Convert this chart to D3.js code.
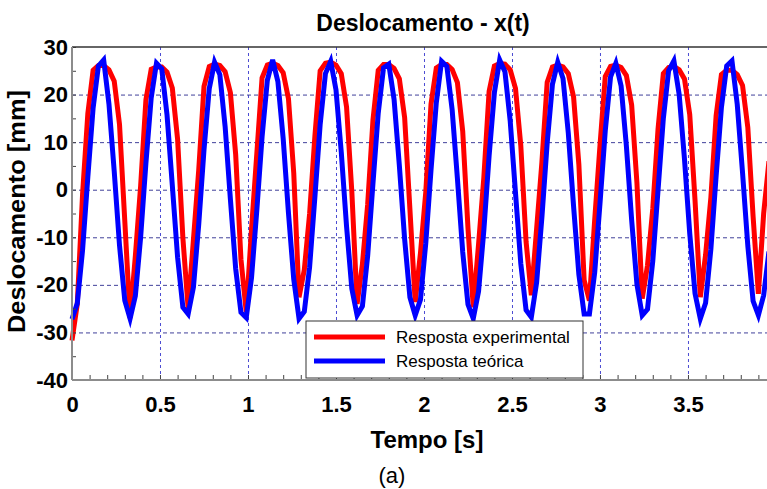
<!DOCTYPE html>
<html>
<head>
<meta charset="utf-8">
<script src="https://cdn.jsdelivr.net/npm/d3@7"></script>
<style>
  body { margin: 0; background: #fff; }
  svg { display: block; font-family: "Liberation Sans", Arial, sans-serif; }
</style>
</head>
<body>
<svg id="chart"></svg>
<script>
// Layout
const margin = { top: 47, right: 0, bottom: 109, left: 72 };
const width = 767 - margin.left - margin.right;
const height = 489 - margin.top - margin.bottom;

// Sampling interval of both series (s)
const sampleStep = 0.03;

// Resposta experimental [mm], one value per sample
const experimentalValues = [
  -31.7, -24.0, -1.0, 16.0, 25.1, 26.1, 26.1, 25.2, 22.8, 13.7,
  -6.6, -27.0, -13.9, 0.8, 18.9, 25.3, 25.8, 25.8, 24.7, 21.4,
  10.6, -10.1, -25.0, -10.5, 4.1, 21.7, 25.9, 26.4, 26.1, 24.8,
  20.4, 7.4, -14.6, -25.7, -8.3, 7.5, 23.5, 26.2, 26.6, 26.1,
  24.6, 19.1, 3.5, -22.6, -16.8, -5.1, 11.2, 25.0, 26.6, 26.8,
  26.2, 24.4, 17.4, -0.4, -24.0, -15.7, -3.1, 14.6, 25.1, 26.3,
  26.3, 25.5, 23.3, 15.2, -4.1, -23.6, -13.3, -0.6, 18.0, 25.6,
  26.3, 26.3, 25.3, 22.5, 12.3, -8.1, -24.7, -11.5, 2.5, 20.7,
  26.0, 26.5, 26.4, 25.2, 21.3, 9.3, -10.9, -22.2, -8.2, 5.8,
  22.6, 25.8, 26.2, 25.8, 24.4, 19.5, 5.3, -19.0, -23.3, -6.3,
  9.3, 23.8, 25.9, 26.2, 25.7, 24.0, 17.8, 1.4, -22.9, -15.9,
  -4.0, 12.8, 24.4, 25.7, 25.9, 25.2, 23.3, 15.8, -2.2, -22.6,
  -13.7, -1.7, 15.6, 24.2, 25.1, 25.1, 24.2, 21.9, 13.1, -5.6,
  -21.9, -5.0, 6.0
];

// Resposta teórica [mm], one value per sample
const theoreticalValues = [
  -27.2, -23.9, -12.7, 2.7, 17.2, 26.0, 27.3, 18.0, 3.8, -11.7,
  -23.3, -27.1, -22.3, -10.0, 5.6, 19.3, 26.6, 25.4, 15.7, 0.9,
  -14.2, -24.7, -26.1, -20.5, -7.3, 8.4, 21.3, 26.8, 24.2, 13.3,
  -2.0, -16.6, -25.8, -26.9, -18.5, -4.4, 11.1, 23.0, 27.3, 22.7,
  10.7, -4.9, -18.8, -27.1, -25.6, -16.3, -1.6, 13.7, 24.4, 27.0,
  21.0, 7.9, -7.7, -20.8, -26.4, -24.5, -13.9, 1.3, 16.1, 25.6,
  26.4, 19.0, 5.1, -10.4, -22.6, -26.4, -23.1, -11.3, 4.2, 18.3,
  27.0, 25.9, 16.8, 2.3, -13.1, -24.1, -27.1, -21.4, -8.6, 7.1,
  20.4, 27.3, 24.8, 14.4, -0.7, -15.5, -25.3, -26.8, -19.5, -5.8,
  9.8, 22.2, 26.8, 23.4, 11.9, -3.5, -17.8, -26.1, -26.1, -17.4,
  -2.9, 12.4, 23.7, 26.6, 21.8, 9.2, -6.4, -19.9, -26.4, -25.1,
  -15.0, 0.0, 15.0, 25.0, 27.1, 20.0, 6.5, -9.2, -21.8, -27.1,
  -23.8, -12.5, 2.9, 17.3, 26.0, 27.1, 17.9, 3.6, -11.8, -23.4,
  -26.4, -22.2, -13.0
];

// Axis ticks
const xTickValues = [0, 0.5, 1, 1.5, 2, 2.5, 3, 3.5];
const yTickValues = [-40, -30, -20, -10, 0, 10, 20, 30];
const seriesLabels = ["Resposta experimental", "Resposta teórica"];

const seriesColors = {
  experimental: "#ff0000",
  theoretical: "#0000ff",
};

const svgRoot = d3
  .select("#chart")
  .attr("width", width + margin.left + margin.right)
  .attr("height", height + margin.top + margin.bottom);

const svg = svgRoot
  .append("g")
  .attr("transform", `translate(${margin.left},${margin.top})`);

// Scales
const xScale = d3.scaleLinear().domain([0, 3.949]).range([0, width]);
const yScale = d3.scaleLinear().domain([-40, 30]).range([height, 0]);

// Grid lines (dashed)
svg
  .append("g")
  .attr("class", "x-grid")
  .attr("transform", `translate(0,${height})`)
  .call(d3.axisBottom(xScale).tickValues(xTickValues.slice(1)).tickSize(-height).tickFormat(""))
  .call((g) => g.select(".domain").remove())
  .selectAll("line")
  .attr("stroke", "#4b4bd2")
  .attr("stroke-dasharray", "3,3");

svg
  .append("g")
  .attr("class", "y-grid")
  .call(d3.axisLeft(yScale).tickValues(yTickValues.slice(1, -1)).tickSize(-width).tickFormat(""))
  .call((g) => g.select(".domain").remove())
  .selectAll("line")
  .attr("stroke", "#40409a")
  .attr("stroke-dasharray", "4,3");

// Series lines
svg
  .append("clipPath")
  .attr("id", "plot-clip")
  .append("rect")
  .attr("x", -3)
  .attr("y", -10)
  .attr("width", width + 3)
  .attr("height", height + 20);

const line = d3
  .line()
  .x((d, i) => xScale(i * sampleStep))
  .y((d) => yScale(d));

const lines = svg.append("g").attr("clip-path", "url(#plot-clip)");

lines
  .append("path")
  .datum(experimentalValues)
  .attr("fill", "none")
  .attr("stroke", seriesColors.experimental)
  .attr("stroke-width", 5)
  .attr("d", line);

lines
  .append("path")
  .datum(theoreticalValues)
  .attr("fill", "none")
  .attr("stroke", seriesColors.theoretical)
  .attr("stroke-width", 5)
  .attr("d", line);

// Minor ticks (inside the plot)
svg
  .append("g")
  .attr("transform", `translate(0,${height})`)
  .call(d3.axisBottom(xScale).tickValues(d3.range(0, 3.95, 0.1)).tickSize(-5).tickFormat(""))
  .call((g) => g.select(".domain").remove())
  .selectAll("line")
  .attr("stroke", "#444");

svg
  .append("g")
  .call(d3.axisLeft(yScale).tickValues(d3.range(-40, 31, 5)).tickSize(-4).tickFormat(""))
  .call((g) => g.select(".domain").remove())
  .selectAll("line")
  .attr("stroke", "#444");

// Frame: top border, left and bottom axis lines
svg
  .append("line")
  .attr("x1", 0)
  .attr("x2", width)
  .attr("y1", 0)
  .attr("y2", 0)
  .attr("stroke", "#333")
  .attr("stroke-width", 1.5);

svg
  .append("line")
  .attr("x1", 0)
  .attr("x2", 0)
  .attr("y1", 0)
  .attr("y2", height)
  .attr("stroke", "#8c8c8c")
  .attr("stroke-width", 2);

svg
  .append("line")
  .attr("x1", 0)
  .attr("x2", width)
  .attr("y1", height)
  .attr("y2", height)
  .attr("stroke", "#8c8c8c")
  .attr("stroke-width", 2);

// Tick labels (plain hyphen for negatives, as in the original)
const gx = svg
  .append("g")
  .attr("class", "x-axis")
  .attr("transform", `translate(0,${height})`)
  .call(d3.axisBottom(xScale).tickValues(xTickValues).tickSize(0).tickPadding(16).tickFormat((d) => String(d)));
gx.select(".domain").remove();
gx.selectAll("text")
  .attr("font-family", "Liberation Sans, Arial, sans-serif")
  .attr("font-size", 22)
  .attr("font-weight", "bold")
  .attr("fill", "#000");

const gy = svg
  .append("g")
  .attr("class", "y-axis")
  .call(d3.axisLeft(yScale).tickValues(yTickValues).tickSize(0).tickPadding(4).tickFormat((d) => String(d)));
gy.select(".domain").remove();
gy.selectAll("text")
  .attr("font-family", "Liberation Sans, Arial, sans-serif")
  .attr("font-size", 22)
  .attr("font-weight", "bold")
  .attr("fill", "#000");

// Legend
const legend = svgRoot.append("g").attr("class", "legend");

legend
  .append("rect")
  .attr("x", 306)
  .attr("y", 321)
  .attr("width", 277)
  .attr("height", 57)
  .attr("fill", "#fff")
  .attr("stroke", "#333")
  .attr("stroke-width", 1);

const legendColors = [seriesColors.experimental, seriesColors.theoretical];
const legendRows = [337, 361];

seriesLabels.forEach((label, i) => {
  legend
    .append("line")
    .attr("x1", 314)
    .attr("x2", 385)
    .attr("y1", legendRows[i])
    .attr("y2", legendRows[i])
    .attr("stroke", legendColors[i])
    .attr("stroke-width", 5);

  legend
    .append("text")
    .attr("x", 396)
    .attr("y", legendRows[i] + 6)
    .attr("font-size", 17)
    .attr("fill", "#000")
    .text(label);
});

// Titles
svgRoot
  .append("text")
  .attr("x", 423)
  .attr("y", 31)
  .attr("text-anchor", "middle")
  .attr("font-size", 23)
  .attr("font-weight", "bold")
  .text("Deslocamento - x(t)");

svgRoot
  .append("text")
  .attr("transform", "translate(25,211.5) rotate(-90)")
  .attr("text-anchor", "middle")
  .attr("font-size", 24)
  .attr("font-weight", "bold")
  .attr("textLength", 243)
  .attr("lengthAdjust", "spacingAndGlyphs")
  .text("Deslocamento [mm]");

svgRoot
  .append("text")
  .attr("x", 427)
  .attr("y", 448)
  .attr("text-anchor", "middle")
  .attr("font-size", 24)
  .attr("font-weight", "bold")
  .text("Tempo [s]");

svgRoot
  .append("text")
  .attr("x", 392)
  .attr("y", 483)
  .attr("text-anchor", "middle")
  .attr("font-size", 22)
  .text("(a)");
</script>
</body>
</html>
